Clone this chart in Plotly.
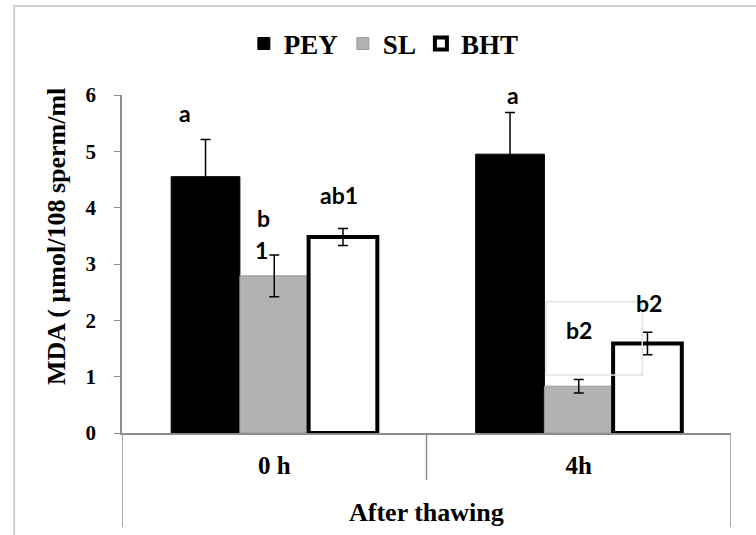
import plotly.graph_objects as go

# ---- data ----
categories = ["0 h", "4h"]
group_title = "After thawing"
series_names = ["PEY", "SL", "BHT"]
pey_values = [4.55, 4.95]
sl_values = [2.79, 0.83]
bht_values = [3.48, 1.59]
pey_err = [0.66, 0.74]
sl_err = [0.37, 0.12]
bht_err = [0.15, 0.20]
y_tick_vals = [0, 1, 2, 3, 4, 5, 6]
y_title = "MDA ( µmol/108 sperm/ml"
# significance letters: (category index, series index, text)
letters = [
    (0, 0, "a"), (0, 1, "b"), (0, 1, "1"), (0, 2, "ab1"),
    (1, 0, "a"), (1, 1, "b2"), (1, 2, "b2"),
]

SERIF = "Liberation Serif, Times New Roman, serif"
SANS = "Lato, Carlito, Calibri, sans-serif"
AXIS_GRAY = "#8c8c8c"

fig = go.Figure()
styles = [
    dict(color="black", line=dict(color="black", width=1)),
    dict(color="#b2b2b2", line=dict(color="#9a9a9a", width=1)),
    dict(color="white", line=dict(color="black", width=4)),
]
for name, vals, errs, st in zip(series_names, [pey_values, sl_values, bht_values],
                                [pey_err, sl_err, bht_err], styles):
    fig.add_trace(go.Bar(
        name="<b>%s</b>" % name, x=categories, y=vals, marker=st,
        error_y=dict(type="data", array=errs, visible=True, color="black",
                     thickness=1.5, width=5),
    ))

bargap = 0.323
barw = (1 - bargap) / 3

# letter annotations: placed relative to bar centre (data) with pixel shifts
letter_pos = {
    (0, 0, "a"): (-21, 5.68), (0, 1, "b"): (-11, 3.82), (0, 1, "1"): (-13, 3.25),
    (0, 2, "ab1"): (-4, 4.23), (1, 0, "a"): (3, 6.0), (1, 1, "b2"): (0, 1.83),
    (1, 2, "b2"): (2, 2.31),
}
for ci, si, txt in letters:
    xs, yy = letter_pos[(ci, si, txt)]
    fig.add_annotation(x=ci + (si - 1) * barw, y=yy, xref="x", yref="y",
                       text="<b>%s</b>" % txt, showarrow=False, xshift=xs,
                       font=dict(family=SANS, size=23, color="black"),
                       xanchor="center", yanchor="middle")

# faint text-box outline around the SL 4h letter
fig.add_shape(type="rect", xref="x", yref="y", x0=0.893, x1=1.2085, y0=1.03, y1=2.33,
              line=dict(color="#e2e2e2", width=1.5), fillcolor="rgba(0,0,0,0)", layer="above")

# category dividers
for xv, yb in [(-0.5, -0.278), (0.5, -0.139), (1.5, -0.278)]:
    fig.add_shape(type="line", xref="x", yref="paper", x0=xv, x1=xv, y0=0, y1=yb,
                  line=dict(color=AXIS_GRAY, width=1.5))

fig.add_annotation(x=0.5, y=-0.235, xref="x", yref="paper", text="<b>%s</b>" % group_title,
                   showarrow=False, font=dict(family=SERIF, size=26, color="black"),
                   yanchor="middle")

# y-axis title
fig.add_annotation(x=-0.1067, y=0.58, xref="paper", yref="paper", text="<b>%s</b>" % y_title,
                   textangle=-90, showarrow=False, xanchor="center", yanchor="middle",
                   font=dict(family=SERIF, size=26, color="black"))

# outer chart frame
fig.add_shape(type="rect", xref="paper", yref="paper", x0=-0.177, x1=1.06, y0=-0.33, y1=1.263,
              line=dict(color="#cfcfcf", width=2), fillcolor="rgba(0,0,0,0)")

fig.update_layout(
    width=756, height=535,
    margin=dict(l=122, r=25, t=95, b=102),
    paper_bgcolor="white", plot_bgcolor="white",
    barmode="group", bargap=bargap, bargroupgap=0,
    showlegend=True,
    legend=dict(orientation="h", x=0.43, xanchor="center", y=1.151, yanchor="middle",
                font=dict(family=SERIF, size=27, color="black"), itemwidth=30,
                traceorder="normal"),
    font=dict(family=SERIF, color="black"),
    xaxis=dict(range=[-0.5, 1.5], showline=True, linecolor=AXIS_GRAY, linewidth=1.5,
               ticks="", showgrid=False, zeroline=False,
               tickfont=dict(family=SERIF, size=25, color="black", weight="bold"),
               ticklabelstandoff=9),
    yaxis=dict(range=[0, 6], tickvals=y_tick_vals, showline=True, linecolor=AXIS_GRAY,
               linewidth=1.5, ticks="outside", ticklen=6, tickcolor=AXIS_GRAY,
               showgrid=False, zeroline=False,
               tickfont=dict(family=SERIF, size=21, color="black", weight="bold"),
               ticklabelstandoff=14),
)

fig.write_html("out.html", config={"displayModeBar": False},
               post_script="document.body.style.margin='0px';")
